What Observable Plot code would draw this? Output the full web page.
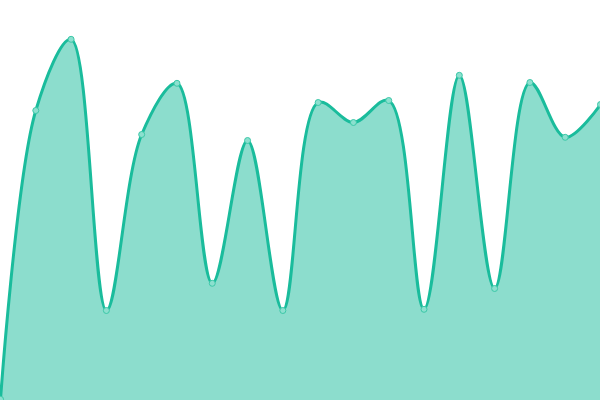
<!DOCTYPE html>
<html>
<head>
<meta charset="utf-8">
<script src="https://cdn.jsdelivr.net/npm/d3@7"></script>
<script src="https://cdn.jsdelivr.net/npm/@observablehq/plot@0.6"></script>
<style>
  html, body { margin: 0; padding: 0; background: #fff; }
  #chart svg { display: block; }
</style>
</head>
<body>
<div id="chart"></div>
<script>
const xs = [0, 1, 2, 3, 4, 5, 6, 7, 8, 9, 10, 11, 12, 13, 14, 15, 16, 17];
const values = [0.3, 72.5, 90.3, 22.5, 66.5, 79.3, 29.3, 65, 22.5, 74.5, 69.5, 75, 22.8, 81.3, 28, 79.5, 65.8, 74];
const data = xs.map((x, i) => ({x, y: values[i]}));

const chart = Plot.plot({
  width: 600,
  height: 400,
  margin: 0,
  x: {domain: [0, 17], axis: null},
  y: {domain: [0, 100], axis: null},
  marks: [
    Plot.areaY(data, {x: "x", y: "y", curve: "catmull-rom", fill: "#1abc9c", fillOpacity: 0.5}),
    Plot.lineY(data, {x: "x", y: "y", curve: "catmull-rom", stroke: "#1abc9c", strokeWidth: 3}),
    Plot.dot(data, {x: "x", y: "y", r: 3, fill: "#8ce0cf", stroke: "#3cc8a8", strokeWidth: 1})
  ]
});
document.getElementById("chart").appendChild(chart);
</script>
</body>
</html>
